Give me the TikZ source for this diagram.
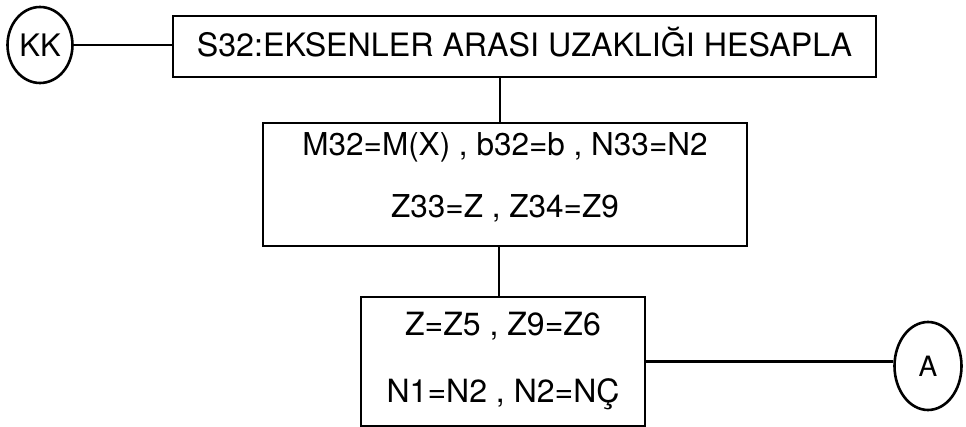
\documentclass[tikz,border=0pt]{standalone}
\usepackage{fontspec}
\setmainfont{TeX Gyre Heros}
\usetikzlibrary{shapes.geometric}
\tikzset{
  box/.style={draw, line width=2.6pt, rectangle, inner sep=0pt, align=center},
  conn/.style={draw, ellipse, line width=2.6pt, inner sep=0pt},
  link/.style={line width=2.2pt},
}
\begin{document}
\begin{tikzpicture}[x=1pt,y=-1pt]
\useasboundingbox (0,0) rectangle (966,427);
\node[conn, minimum width=65pt, minimum height=76pt, font=\fontsize{31}{31}\selectfont] (KK) at (40,45) {KK};
\node[box, minimum width=703pt, minimum height=61pt, font=\fontsize{32.2}{32}\selectfont] (title) at (524.5,46.5) {S32:EKSENLER ARASI UZAKLIĞI HESAPLA\rule[-10pt]{0pt}{10pt}};
\node[box, minimum width=484pt, minimum height=123pt, font=\fontsize{31.5}{62}\selectfont] (box2) at (505,184.5) {M32=M(X) , b32=b , N33=N2\\Z33=Z , Z34=Z9\rule[-18pt]{0pt}{18pt}};
\node[box, minimum width=284pt, minimum height=129pt, font=\fontsize{32}{67}\selectfont] (box3) at (503,361.5) {Z=Z5 , Z9=Z6\\N1=N2 , N2=NÇ};
\node[conn, minimum width=67pt, minimum height=88pt, font=\fontsize{28}{28}\selectfont] (A) at (928,366) {A};
\coordinate (c1) at (500,0);
\coordinate (c2) at (499,0);
\draw[link] (KK.east) -- (KK.east -| title.west);
\draw[link] (title.south -| c1) -- (box2.north -| c1);
\draw[link] (box2.south -| c2) -- (box3.north -| c2);
\draw[link] (box3.east) -- (box3.east -| A.west);
\end{tikzpicture}
\end{document}
